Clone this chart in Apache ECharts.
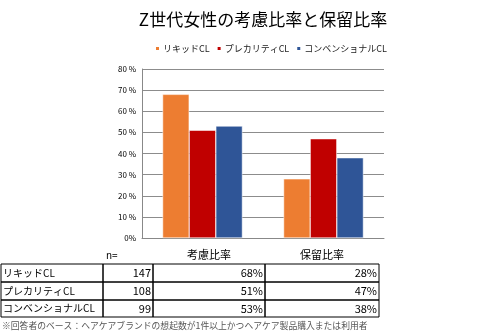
<!DOCTYPE html>
<html><head><meta charset="utf-8">
<script src="https://cdn.jsdelivr.net/npm/echarts@6/dist/echarts.min.js"></script>
<style>html,body{margin:0;padding:0;background:#fff}#c{width:488px;height:336px}</style>
</head><body><div id="c"></div>
<script>
const titleText = 'Z世代女性の考慮比率と保留比率';
const categories = ['考慮比率', '保留比率'];
const seriesNames = ['リキッドCL', 'プレカリティCL', 'コンベンショナルCL'];
const nValues = [147, 108, 99];
const liquid = [68, 28];
const precarity = [51, 47];
const conventional = [53, 38];
const yTicks = [0, 10, 20, 30, 40, 50, 60, 70, 80];
const footnote = '※回答者のベース：ヘアケアブランドの想起数が1件以上かつヘアケア製品購入または利用者';

const colors = ['#ED7D31', '#C00000', '#2F5597'];
const seriesValues = [liquid, precarity, conventional];
const FONT = '"Noto Sans CJK JP", sans-serif';

const chart = echarts.init(document.getElementById('c'), null, {renderer: 'canvas'});

const tblX = [1, 103, 153, 265, 379];
const tblY = [264, 282, 300, 317];
const graphics = [];
for (let r = 0; r < 3; r++) {
  for (let c = 0; c < 4; c++) {
    graphics.push({type: 'rect', shape: {x: tblX[c], y: tblY[r], width: tblX[c+1]-tblX[c], height: tblY[r+1]-tblY[r]},
      style: {fill: 'none', stroke: '#000', lineWidth: 1}});
  }
  const cy = (tblY[r] + tblY[r+1]) / 2;
  graphics.push({type: 'text', x: 3, y: cy, style: {text: seriesNames[r], font: '10px ' + FONT, fill: '#000', textVerticalAlign: 'middle', textAlign: 'left'}});
  graphics.push({type: 'text', x: tblX[2]-2, y: cy, style: {text: String(nValues[r]), font: '11px ' + FONT, fill: '#000', textVerticalAlign: 'middle', textAlign: 'right'}});
  for (let k = 0; k < 2; k++) {
    graphics.push({type: 'text', x: tblX[3+k]-2, y: cy, style: {text: seriesValues[r][k] + '%', font: '11px ' + FONT, fill: '#000', textVerticalAlign: 'middle', textAlign: 'right'}});
  }
}
graphics.push({type: 'text', x: 106, y: 255, style: {text: 'n=', font: '10px ' + FONT, fill: '#000', textVerticalAlign: 'middle', textAlign: 'left'}});
categories.forEach((c, i) => {
  graphics.push({type: 'text', x: (tblX[2+i] + tblX[3+i]) / 2, y: 255, style: {text: c, font: '11px ' + FONT, fill: '#000', textVerticalAlign: 'middle', textAlign: 'center'}});
});
graphics.push({type: 'text', x: 2, y: 326, style: {text: footnote, font: '8.8px ' + FONT, fill: '#555', textVerticalAlign: 'middle', textAlign: 'left'}});

chart.setOption({
  animation: false,
  title: {text: titleText, left: 258, top: 6, textAlign: 'center',
    textStyle: {fontFamily: FONT, fontSize: 17, fontWeight: 'normal', color: '#000'}},
  legend: {data: seriesNames, left: 149, top: 39, itemWidth: 5, itemHeight: 5, itemGap: 6,
    icon: 'rect', textStyle: {fontFamily: FONT, fontSize: 9, color: '#222', padding: [0, 0, 0, -2]}},
  grid: {left: 142, right: 104, top: 69, bottom: 98, containLabel: false},
  xAxis: {type: 'category', data: categories,
    axisLine: {show: true, lineStyle: {color: '#888'}}, axisTick: {show: false},
    axisLabel: {show: false}},
  yAxis: {type: 'value', min: 0, max: 80, interval: 10,
    axisLine: {show: true, lineStyle: {color: '#888'}}, axisTick: {show: false},
    splitLine: {lineStyle: {color: '#8c8c8c', width: 1}},
    axisLabel: {fontFamily: FONT, fontSize: 8, color: '#000', margin: 6,
      formatter: v => v === 0 ? '0%' : v + ' %'}},
  series: seriesNames.map((name, i) => ({
    name, type: 'bar', data: seriesValues[i], barWidth: '22%', barGap: '0%',
    itemStyle: {color: colors[i], borderColor: '#fff', borderWidth: 0.5}
  })),
  graphic: graphics
});
</script></body></html>
